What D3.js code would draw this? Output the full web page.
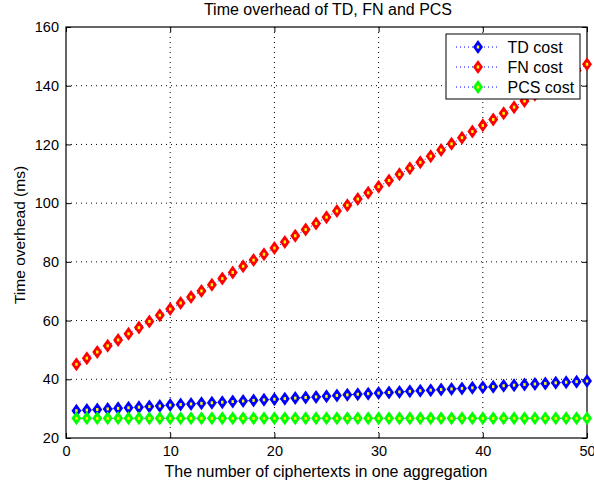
<!DOCTYPE html>
<html>
<head>
<meta charset="utf-8">
<script src="https://cdn.jsdelivr.net/npm/d3@7"></script>
<style>
  body { margin: 0; background: #fff; }
  text { font-family: "Liberation Sans", Arial, sans-serif; fill: #000; }
</style>
</head>
<body>
<svg id="chart" width="594" height="489"></svg>
<script>
// データ
const xs = d3.range(1, 51);
const tdCost = [29.3, 29.5, 29.7, 29.9, 30.1, 30.3, 30.5, 30.7, 30.9, 31.2,
  31.4, 31.6, 31.8, 32.0, 32.2, 32.4, 32.6, 32.8, 33.0, 33.2,
  33.4, 33.6, 33.8, 34.0, 34.2, 34.5, 34.7, 34.9, 35.1, 35.3,
  35.5, 35.7, 35.9, 36.1, 36.3, 36.5, 36.7, 36.9, 37.1, 37.3,
  37.5, 37.8, 38.0, 38.2, 38.4, 38.6, 38.8, 39.0, 39.2, 39.4];
const fnCost = [45.1, 47.2, 49.3, 51.4, 53.4, 55.5, 57.6, 59.7, 61.8, 63.9,
  66.0, 68.0, 70.1, 72.2, 74.3, 76.4, 78.5, 80.6, 82.6, 84.7,
  86.8, 88.9, 91.0, 93.1, 95.2, 97.3, 99.3, 101.4, 103.5, 105.6,
  107.7, 109.8, 111.9, 113.9, 116.0, 118.1, 120.2, 122.3, 124.4, 126.5,
  128.5, 130.6, 132.7, 134.8, 136.9, 139.0, 141.1, 143.2, 145.2, 147.3];
const pcsCost = [26.7, 26.7, 26.7, 26.7, 26.7, 26.7, 26.7, 26.7, 26.7, 26.7,
  26.7, 26.7, 26.7, 26.7, 26.7, 26.7, 26.7, 26.7, 26.7, 26.7,
  26.7, 26.7, 26.7, 26.7, 26.7, 26.7, 26.7, 26.7, 26.7, 26.7,
  26.7, 26.7, 26.7, 26.7, 26.7, 26.7, 26.7, 26.7, 26.7, 26.7,
  26.7, 26.7, 26.7, 26.7, 26.7, 26.7, 26.7, 26.7, 26.7, 26.7];
const seriesNames = ["TD cost", "FN cost", "PCS cost"];
const seriesColors = ["#0000ff", "#ff0000", "#00ff00"];
const xTicks = [0, 10, 20, 30, 40, 50];
const yTicks = [20, 40, 60, 80, 100, 120, 140, 160];

const svg = d3.select("#chart");
const pL = 66, pR = 587, pT = 27, pB = 438;

const x = d3.scaleLinear().domain([0, 50]).range([pL, pR]);
const y = d3.scaleLinear().domain([20, 160]).range([pB, pT]);

// グリッド
const grid = svg.append("g");
grid.selectAll(".gx")
  .data(xTicks.slice(1, -1))
  .enter().append("line")
  .attr("x1", d => x(d)).attr("x2", d => x(d))
  .attr("y1", pT).attr("y2", pB)
  .attr("stroke", "#000").attr("stroke-width", 1)
  .attr("stroke-dasharray", "1,4");
grid.selectAll(".gy")
  .data(yTicks.slice(1, -1))
  .enter().append("line")
  .attr("y1", d => y(d)).attr("y2", d => y(d))
  .attr("x1", pL).attr("x2", pR)
  .attr("stroke", "#000").attr("stroke-width", 1)
  .attr("stroke-dasharray", "1,4");

// 軸
const axisFont = g => g.selectAll("text").style("font-size", "14.5px")
  .style("font-family", "Liberation Sans, Arial, sans-serif");
svg.append("g")
  .attr("transform", `translate(0,${pB})`)
  .call(d3.axisBottom(x).tickValues(xTicks).tickSize(-5).tickPadding(8).tickSizeOuter(0))
  .call(axisFont)
  .call(g => g.select(".domain").remove());
svg.append("g")
  .attr("transform", `translate(0,${pT})`)
  .call(d3.axisTop(x).tickValues(xTicks).tickSize(-5).tickFormat("").tickSizeOuter(0))
  .call(g => g.select(".domain").remove());
svg.append("g")
  .attr("transform", `translate(${pL},0)`)
  .call(d3.axisLeft(y).tickValues(yTicks).tickSize(-5).tickPadding(7).tickSizeOuter(0))
  .call(axisFont)
  .call(g => g.select(".domain").remove());
svg.append("g")
  .attr("transform", `translate(${pR},0)`)
  .call(d3.axisRight(y).tickValues(yTicks).tickSize(-5).tickFormat("").tickSizeOuter(0))
  .call(g => g.select(".domain").remove());

svg.append("rect")
  .attr("x", pL).attr("y", pT)
  .attr("width", pR - pL).attr("height", pB - pT)
  .attr("fill", "none").attr("stroke", "#000").attr("stroke-width", 1.2);

// 系列
const diamond = "M0,-7L5,0L0,7L-5,0Z";
const series = [tdCost, fnCost, pcsCost];
const line = d3.line().x((d, i) => x(xs[i])).y(d => y(d));

series.forEach((vals, k) => {
  svg.append("path")
    .datum(vals)
    .attr("d", line)
    .attr("fill", "none")
    .attr("stroke", "#0000ff")
    .attr("stroke-width", 1)
    .attr("stroke-dasharray", "1,3");
  const g = svg.append("g");
  const pts = g.selectAll("g")
    .data(vals)
    .enter().append("g")
    .attr("transform", (d, i) => `translate(${x(xs[i])},${y(d)})`);
  pts.append("path").attr("d", diamond).attr("fill", seriesColors[k]);
  pts.append("rect").attr("x", -1.2).attr("y", -1.5).attr("width", 2.4).attr("height", 3)
    .attr("fill", "#ffff00");
});

// 凡例
const lg = svg.append("g").attr("transform", "translate(446,34)");
lg.append("rect").attr("width", 134).attr("height", 65)
  .attr("fill", "#fff").attr("stroke", "#000").attr("stroke-width", 1);
seriesNames.forEach((name, k) => {
  const row = lg.append("g").attr("transform", `translate(0,${13 + k * 20})`);
  row.append("line").attr("x1", 10).attr("x2", 51)
    .attr("stroke", "#0000ff").attr("stroke-dasharray", "1,3");
  row.append("path").attr("d", diamond).attr("transform", "translate(32,0)")
    .attr("fill", seriesColors[k]);
  row.append("rect").attr("x", 30.8).attr("y", -1.5).attr("width", 2.4).attr("height", 3)
    .attr("fill", "#ffff00");
  row.append("text").attr("x", 61.5).attr("y", 6.3)
    .style("font-size", "16px").text(name);
});

// タイトル・軸ラベル
svg.append("text").attr("x", 328).attr("y", 14.5).attr("text-anchor", "middle")
  .style("font-size", "16px").text("Time overhead of TD, FN and PCS");
svg.append("text").attr("x", 326).attr("y", 476.5).attr("text-anchor", "middle")
  .style("font-size", "16px").text("The number of ciphertexts in one aggregation");
svg.append("text").attr("transform", `translate(25,235) rotate(-90)`)
  .attr("text-anchor", "middle")
  .style("font-size", "15.5px").text("Time overhead (ms)");
</script>
</body>
</html>
